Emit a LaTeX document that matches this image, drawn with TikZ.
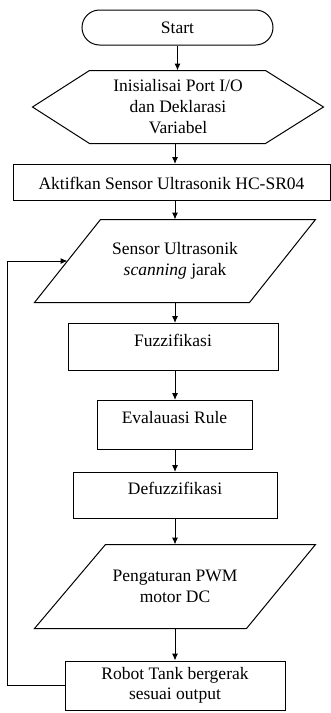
\documentclass[tikz,border=0pt]{standalone}
\usepackage{fontspec}
\setmainfont{Liberation Serif}
\usetikzlibrary{calc,arrows.meta}
\begin{document}
\begin{tikzpicture}[x=1pt,y=-1pt,
  line width=1pt,
  every node/.style={font=\fontsize{17.5}{20.5}\selectfont, align=center, inner sep=0pt},
  box/.style={draw, rectangle},
  shapebox/.style={rectangle},
  arr/.style={-{Latex[length=7pt,width=6pt]}}]

\fill[white] (0,0) rectangle (331,713);
\useasboundingbox (0,0) rectangle (331,713);

\coordinate (col) at (175,0);
\coordinate (loopx) at (7,0);

% Start
\node[box, rounded corners=17.5pt, minimum width=191pt, minimum height=35pt] (start) at (177.5,27.5) {Start};

% Hexagon
\node[shapebox, minimum width=290pt, minimum height=72pt, font=\fontsize{17.5}{21}\selectfont] (hex) at (178,107) {Inisialisai Port I/O\\dan Deklarasi\\Variabel};
\draw ($(hex.north west)+(57,0)$) -- ($(hex.north east)+(-58,0)$) -- (hex.east) -- ($(hex.south east)+(-58,0)$) -- ($(hex.south west)+(57,0)$) -- (hex.west) -- cycle;

% Aktifkan
\node[box, anchor=north, minimum width=317pt, text height=24.5pt, text depth=11.5pt] (akt) at (171.5,164) {Aktifkan Sensor Ultrasonik HC-SR04};

% Parallelogram 1
\node[shapebox, minimum width=280pt, minimum height=82pt] (p1) at (175,261) {Sensor Ultrasonik\\\textit{scanning} jarak};
\draw ($(p1.north west)+(66,0)$) -- (p1.north east) -- ($(p1.south east)+(-66,0)$) -- (p1.south west) -- cycle;
\coordinate (p1in) at ($(p1.west)+(33,0)$);

% Fuzzifikasi
\node[box, anchor=north, minimum width=210pt, text height=22.5pt, text depth=24.5pt] (fuzz) at (173,323) {Fuzzifikasi};

% Evaluasi
\node[box, anchor=north, minimum width=155pt, text height=22.5pt, text depth=26.5pt] (eval) at (174.5,400) {Evalauasi Rule};

% Defuzzifikasi
\node[box, anchor=north, minimum width=204pt, text height=21.5pt, text depth=24.5pt] (defuzz) at (175,472) {Defuzzifikasi};

% Parallelogram 2
\node[shapebox, minimum width=280pt, minimum height=83pt] (p2) at (175,586.5) {Pengaturan PWM\\motor DC};
\draw ($(p2.north west)+(71,0)$) -- (p2.north east) -- ($(p2.south east)+(-69,0)$) -- (p2.south west) -- cycle;

% Robot
\node[box, minimum width=220pt, minimum height=49pt] (robot) at (175,685.5) {Robot Tank bergerak\\sesuai output};

% Connectors
\draw[arr] (start.south) -- (start.south |- hex.north);
\draw[arr] (hex.south -| col) -- (akt.north -| col);
\draw[arr] (akt.south -| col) -- (p1.north -| col);
\draw[arr] (p1.south -| col) -- (fuzz.north -| col);
\draw[arr] (fuzz.south -| col) -- (eval.north -| col);
\draw[arr] (eval.south -| col) -- (defuzz.north -| col);
\draw[arr] (defuzz.south -| col) -- (p2.north -| col);
\draw[arr] (p2.south -| col) -- (robot.north -| col);
\draw[arr] (robot.west) -- (robot.west -| loopx) |- (p1in);
\end{tikzpicture}
\end{document}
